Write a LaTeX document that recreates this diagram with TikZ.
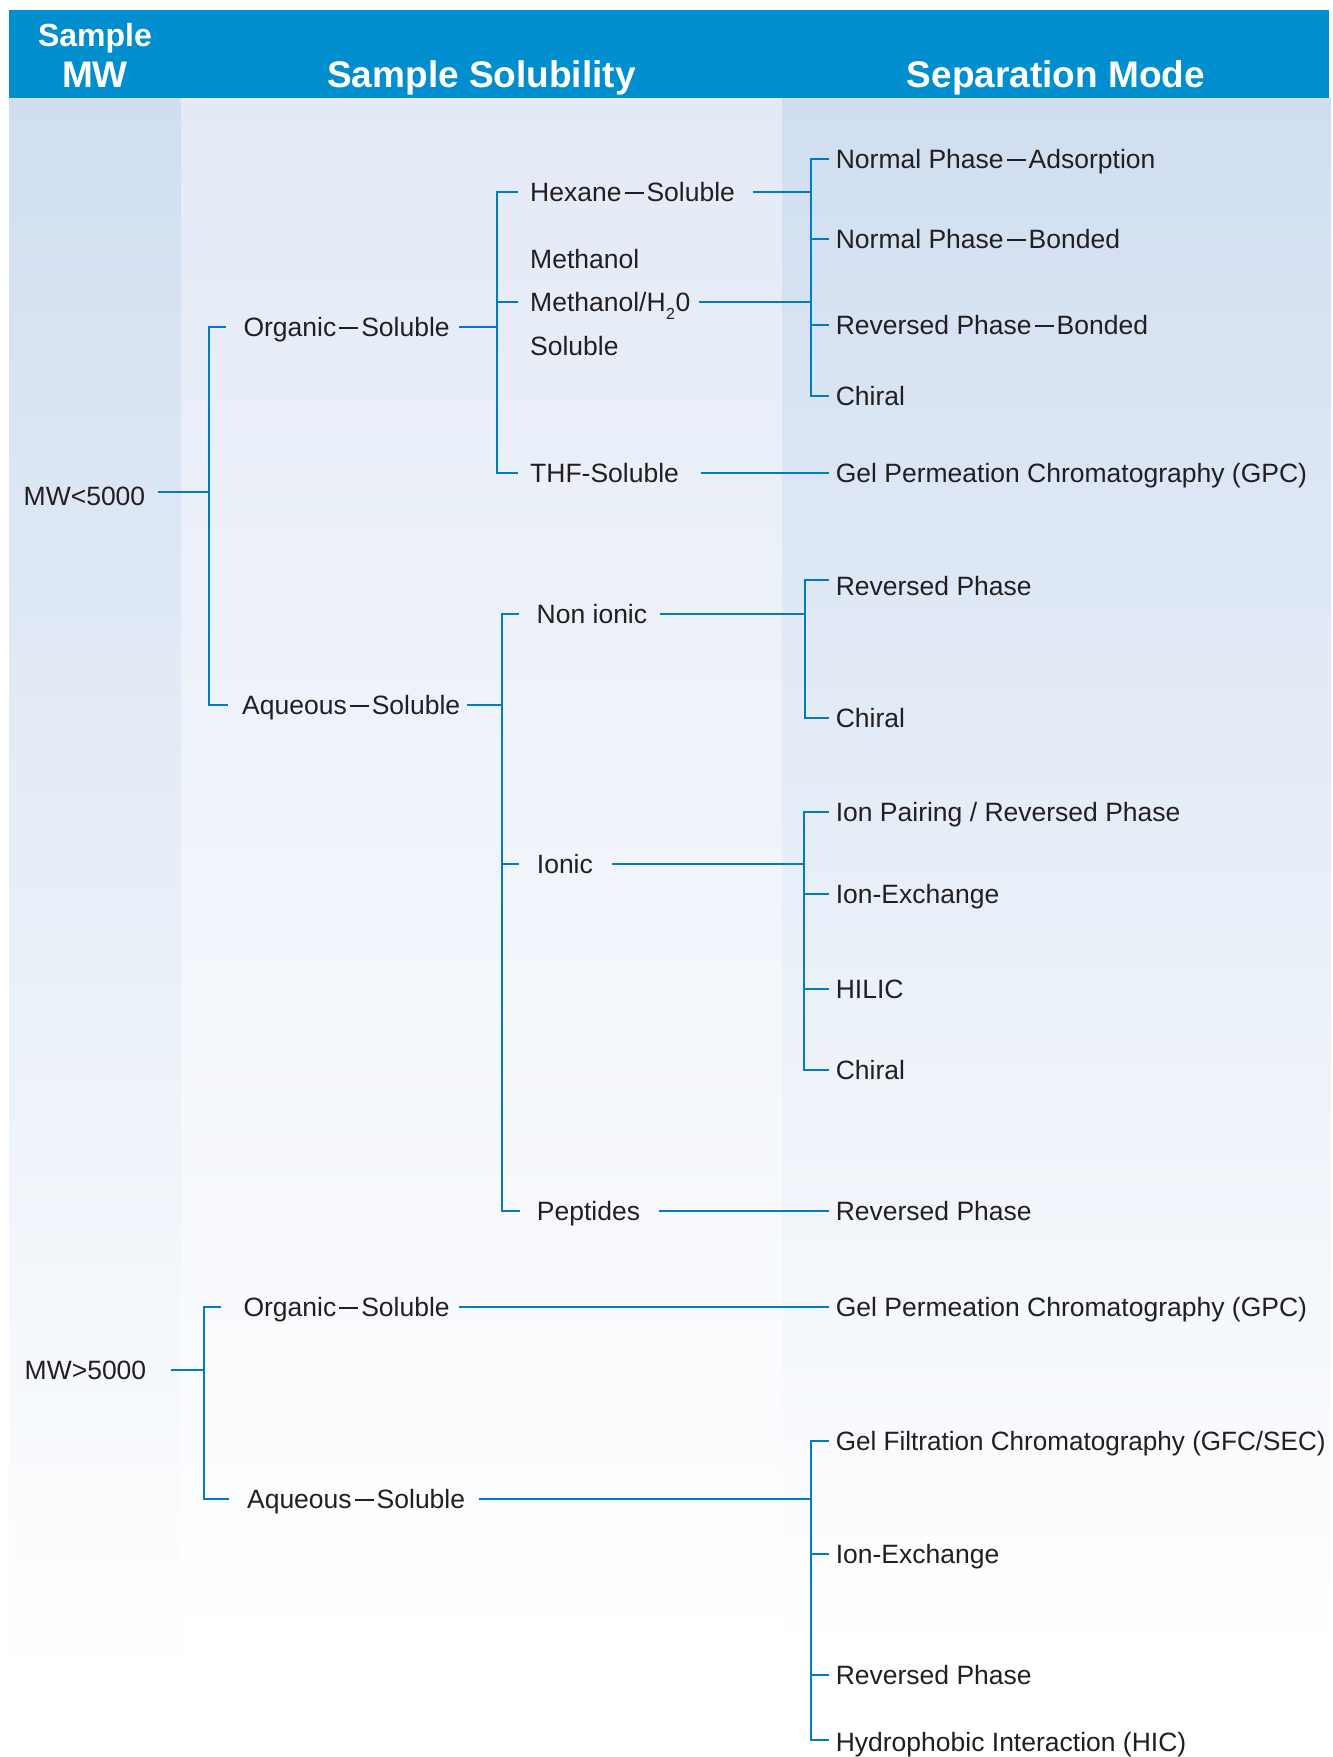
\documentclass[tikz,border=0pt]{standalone}
\usepackage{fontspec}
\setmainfont{Liberation Sans}
\definecolor{hdr}{RGB}{0,142,207}
\definecolor{lnc}{RGB}{0,124,196}
\definecolor{txt}{RGB}{35,31,32}
\definecolor{colA}{RGB}{208,222,240}
\definecolor{colB}{RGB}{227,234,246}
\newcommand{\dsh}{\kern3pt\rule[7.4pt]{19pt}{2pt}\kern3pt}
\newcommand{\subtwo}{\kern0.5pt\raisebox{-8pt}{\fontsize{16}{18}\selectfont 2}\kern0.5pt}
\begin{document}
\begin{tikzpicture}[x=1pt,y=-1pt,
  lbl/.style={anchor=west, inner sep=0pt, text=txt, font=\fontsize{26.5}{32}\selectfont, text height=19pt, text depth=0pt},
  hd/.style={anchor=base, text=white, inner sep=0pt, font=\bfseries\fontsize{37}{44}\selectfont},
  ln/.style={draw=lnc, line width=2pt}]
\useasboundingbox (0,0) rectangle (1333,1757);
\fill[white] (0,0) rectangle (1333,1757);
% column backgrounds
\shade[top color=colA, bottom color=white] (9,97.7) rectangle (181,1680);
\shade[top color=colB, bottom color=white] (181,97.7) rectangle (782,1653);
\shade[top color=colA, bottom color=white] (782,97.7) rectangle (1331,1653);
% header
\fill[hdr] (9,9.5) rectangle (1329,97.7);
\node[hd, font=\bfseries\fontsize{32}{38}\selectfont] (hs) at (95,46.5) {Sample};
\node[hd] (hm) at (95,87.3) {MW};
\node[hd] (hsol) at (481.5,87.6) {Sample Solubility};
\node[hd] (hsep) at (1056,87.6) {Separation Mode};
% column 1
\node[lbl] (mw1) at (23.5,496.3) {MW<5000};
\node[lbl] (mw2) at (24.5,1370) {MW>5000};
% column 2
\node[lbl] (org1) at (243.3,326.7) {Organic\dsh Soluble};
\node[lbl] (aq1) at (242,705) {Aqueous\dsh Soluble};
\node[lbl] (org2) at (243.3,1307.3) {Organic\dsh Soluble};
\node[lbl] (aq2) at (246.9,1498.7) {Aqueous\dsh Soluble};
% column 3
\node[lbl] (hex) at (530,191.7) {Hexane\dsh Soluble};
\node[lbl] (meA) at (530,258.5) {Methanol};
\node[lbl] (meB) at (530,302) {Methanol/H\subtwo 0};
\node[lbl] (meC) at (530,345.5) {Soluble};
\node[lbl] (thf) at (530,472.7) {THF-Soluble};
\node[lbl] (non) at (536.5,614.3) {Non ionic};
\node[lbl] (ion) at (536.7,863.7) {Ionic};
\node[lbl] (pep) at (536.7,1211.3) {Peptides};
% column 4
\node[lbl] (np1) at (835.6,159) {Normal Phase\dsh Adsorption};
\node[lbl] (np2) at (835.6,239.3) {Normal Phase\dsh Bonded};
\node[lbl] (rp1) at (835.6,325) {Reversed Phase\dsh Bonded};
\node[lbl] (ch1) at (835.6,396) {Chiral};
\node[lbl] (gpc1) at (835.6,472.7) {Gel Permeation Chromatography (GPC)};
\node[lbl] (rp2) at (835.6,585.8) {Reversed Phase};
\node[lbl] (ch2) at (835.6,718) {Chiral};
\node[lbl] (ipr) at (835.6,812) {Ion Pairing / Reversed Phase};
\node[lbl] (iex1) at (835.6,893.7) {Ion-Exchange};
\node[lbl] (hil) at (835.6,989.3) {HILIC};
\node[lbl] (ch3) at (835.6,1069.7) {Chiral};
\node[lbl] (rp3) at (835.6,1211.3) {Reversed Phase};
\node[lbl] (gpc2) at (835.6,1307.3) {Gel Permeation Chromatography (GPC)};
\node[lbl] (gfc) at (835.6,1440.7) {\scalebox{0.984}[1]{Gel Filtration Chromatography (GFC/SEC)}};
\node[lbl] (iex2) at (835.6,1554.3) {Ion-Exchange};
\node[lbl] (rp4) at (835.6,1675.3) {Reversed Phase};
\node[lbl] (hic) at (835.6,1742) {Hydrophobic Interaction (HIC)};
% bar positions and offset line ends
\coordinate (b1) at (208.5,0);
\coordinate (b2) at (203.6,0);
\coordinate (b3) at (497,0);
\coordinate (b4) at (502,0);
\coordinate (b5) at (811,0);
\coordinate (b6) at (804.5,0);
\coordinate (b7) at (804.3,0);
\coordinate (b8) at (811,0);
\coordinate (mw1e) at ([xshift=12.5pt,yshift=4.6pt]mw1.east);
\coordinate (rp2w) at ([xshift=-6.6pt,yshift=5.8pt]rp2.west);
\coordinate (hicw) at ([xshift=-6.6pt,yshift=2pt]hic.west);
% MW<5000
\draw[ln] (mw1e) -- (b1 |- mw1e);
\draw[ln] ([xshift=-17.3pt]org1.west) -- (b1 |- org1.west) -- (b1 |- aq1.west) -- ([xshift=-14pt]aq1.west);
% organic soluble
\draw[ln] ([xshift=9pt]org1.east) -- (b3 |- org1.east);
\draw[ln] ([xshift=-12pt]hex.west) -- (b3 |- hex.west) -- (b3 |- thf.west) -- ([xshift=-12pt]thf.west);
\draw[ln] ([xshift=-12pt]meB.west) -- (b3 |- meB.west);
\draw[ln] ([xshift=17.7pt]hex.east) -- (b5 |- hex.east);
\draw[ln] ([xshift=8pt]meB.east) -- (b5 |- meB.east);
\draw[ln] ([xshift=-6.6pt]np1.west) -- (b5 |- np1.west) -- (b5 |- ch1.west) -- ([xshift=-6.6pt]ch1.west);
\draw[ln] ([xshift=-6.6pt]np2.west) -- (b5 |- np2.west);
\draw[ln] ([xshift=-6.6pt]rp1.west) -- (b5 |- rp1.west);
\draw[ln] ([xshift=21.5pt]thf.east) -- ([xshift=-6.6pt]gpc1.west);
% aqueous soluble
\draw[ln] ([xshift=6.2pt]aq1.east) -- (b4 |- aq1.east);
\draw[ln] ([xshift=-17.8pt]non.west) -- (b4 |- non.west) -- (b4 |- pep.west) -- ([xshift=-17pt]pep.west);
\draw[ln] ([xshift=-17.7pt]ion.west) -- (b4 |- ion.west);
\draw[ln] ([xshift=12.6pt]non.east) -- (b6 |- non.east);
\draw[ln] (rp2w) -- (b6 |- rp2w) -- (b6 |- ch2.west) -- ([xshift=-6.6pt]ch2.west);
\draw[ln] ([xshift=19.3pt]ion.east) -- (b7 |- ion.east);
\draw[ln] ([xshift=-6.6pt]ipr.west) -- (b7 |- ipr.west) -- (b7 |- ch3.west) -- ([xshift=-6.6pt]ch3.west);
\draw[ln] ([xshift=-6.6pt]iex1.west) -- (b7 |- iex1.west);
\draw[ln] ([xshift=-6.6pt]hil.west) -- (b7 |- hil.west);
\draw[ln] ([xshift=18.6pt]pep.east) -- ([xshift=-6.6pt]rp3.west);
% MW>5000
\draw[ln] ([xshift=24.5pt]mw2.east) -- (b2 |- mw2.east);
\draw[ln] ([xshift=-22.3pt]org2.west) -- (b2 |- org2.west) -- (b2 |- aq2.west) -- ([xshift=-18.3pt]aq2.west);
\draw[ln] ([xshift=9pt]org2.east) -- ([xshift=-6.6pt]gpc2.west);
\draw[ln] ([xshift=13.6pt]aq2.east) -- (b8 |- aq2.east);
\draw[ln] ([xshift=-6.6pt]gfc.west) -- (b8 |- gfc.west) -- (b8 |- hicw) -- (hicw);
\draw[ln] ([xshift=-6.6pt]iex2.west) -- (b8 |- iex2.west);
\draw[ln] ([xshift=-6.6pt]rp4.west) -- (b8 |- rp4.west);
\end{tikzpicture}
\end{document}
